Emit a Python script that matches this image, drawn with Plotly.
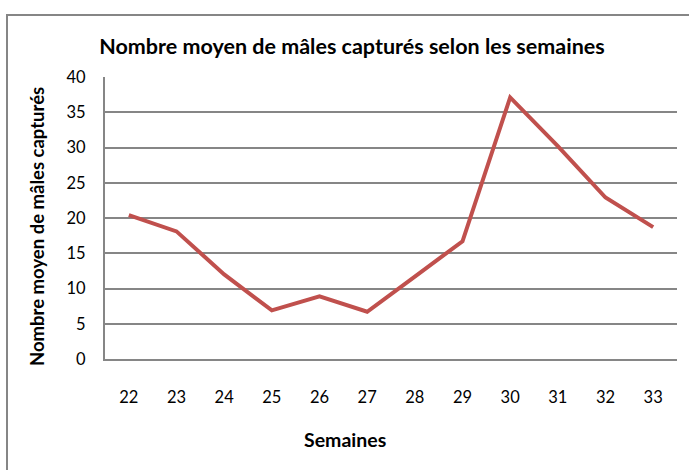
import plotly.graph_objects as go

semaines = ["22", "23", "24", "25", "26", "27", "28", "29", "30", "31", "32", "33"]
males_moyens = [20.4, 18.1, 12.0, 6.9, 8.9, 6.7, 11.7, 16.7, 37.1, 30.2, 22.9, 18.7]
y_ticks = [0, 5, 10, 15, 20, 25, 30, 35, 40]

titre = "Nombre moyen de mâles capturés selon les semaines"
titre_x = "Semaines"
titre_y = "Nombre moyen de mâles capturés"

W, H = 689, 470
L, R, T, B = 105, 12, 77, 111
pw = W - L - R
ph = H - T - B

def px_x(px):
    return (px - L) / pw

def px_y(py):
    return (T + ph - py) / ph

fig = go.Figure()
fig.add_trace(go.Scatter(
    x=semaines, y=males_moyens, mode="lines",
    line=dict(color="#C0504D", width=4),
    showlegend=False,
))

font_family = "Lato, Liberation Sans, Arial, sans-serif"

fig.update_layout(
    width=W, height=H,
    margin=dict(l=L, r=R, t=T, b=B),
    paper_bgcolor="white", plot_bgcolor="white",
    font=dict(family=font_family, color="black", size=16),
    title=dict(text="<b>" + titre + "</b>", x=px_x(352), xref="paper",
               xanchor="center", y=1 - 46 / H, yanchor="middle",
               font=dict(size=21.5, family=font_family)),
    xaxis=dict(
        type="category", range=[-0.5, 11.5], showgrid=False, showline=True,
        linecolor="#868686", linewidth=2, automargin=False,
        ticks="outside", ticklen=22, tickcolor="rgba(0,0,0,0)",
        tickfont=dict(size=16.5), zeroline=False,
    ),
    yaxis=dict(
        range=[0, 40], tickvals=y_ticks, showgrid=True, gridcolor="#868686", gridwidth=2,
        showline=True, linecolor="#868686", linewidth=2, zeroline=False, automargin=False,
        ticks="outside", ticklen=14, tickcolor="rgba(0,0,0,0)",
        tickfont=dict(size=16.5),
    ),
    annotations=[
        dict(text="<b>" + titre_x + "</b>", xref="paper", yref="paper",
             x=px_x(345), y=px_y(439), xanchor="center", yanchor="middle",
             showarrow=False, font=dict(size=19.5)),
        dict(text="<b>" + titre_y + "</b>", xref="paper", yref="paper",
             x=px_x(37), y=px_y(227), xanchor="center", yanchor="middle",
             textangle=-90, showarrow=False, font=dict(size=18.5)),
    ],
    shapes=[dict(
        type="rect", xref="paper", yref="paper",
        x0=px_x(7), x1=px_x(W + 20),
        y0=px_y(H + 20), y1=px_y(15),
        line=dict(color="#868686", width=2), fillcolor="rgba(0,0,0,0)", layer="below",
    )],
)

fig.write_html("out.html", config={"displayModeBar": False},
               post_script="document.body.style.margin='0';document.body.style.padding='0';")
